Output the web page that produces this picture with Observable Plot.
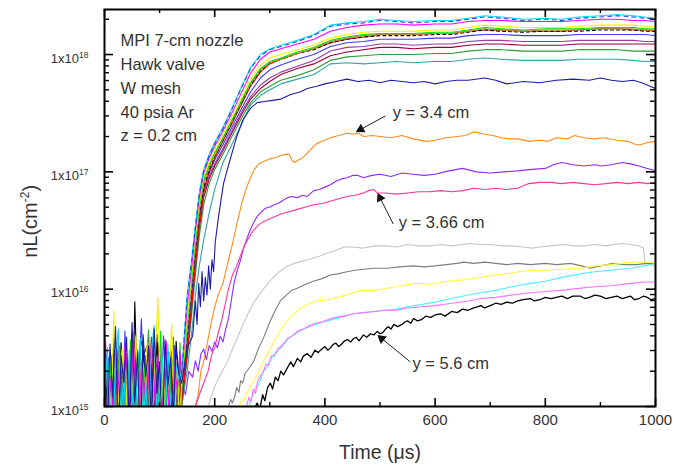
<!DOCTYPE html>
<html><head><meta charset="utf-8">
<script src="https://cdn.jsdelivr.net/npm/d3@7"></script>
<script src="https://cdn.jsdelivr.net/npm/@observablehq/plot@0.6"></script>
<style>
html,body{margin:0;padding:0;background:#fff;}
#chart{width:673px;height:466px;}
</style></head><body><div id="chart"></div>
<script>
// ---------- tick values ----------
const xMajorTicks = [0, 200, 400, 600, 800, 1000];
const xMinorTicks = [100, 300, 500, 700, 900];
const yMajorTicks = [1e15, 1e16, 1e17, 1e18];
const yMinorTicks = [2e15,3e15,4e15,5e15,6e15,7e15,8e15,9e15,2e16,3e16,4e16,5e16,6e16,7e16,8e16,9e16,2e17,3e17,4e17,5e17,6e17,7e17,8e17,9e17,2e18];

// ---------- text ----------
const infoLines = ["MPI 7-cm nozzle", "Hawk valve", "W mesh", "40 psia Ar", "z = 0.2 cm"];
const xTitle = "Time (\u03bcs)";
const annotations = [
  {t: 523, v: 3.18e17, label: "y = 3.4 cm"},
  {t: 534, v: 3.68e16, label: "y = 3.66 cm"},
  {t: 559, v: 2.32e15, label: "y = 5.6 cm"}
];
const arrows = [
  {t1: 510, v1: 3.0e17, t2: 465, v2: 2.3e17},
  {t1: 524, v1: 3.6e16, t2: 500, v2: 6.0e16},
  {t1: 555, v1: 2.4e15, t2: 503, v2: 3.8e15}
];

// ---------- early noise (0-140 us) ----------
const noiseTa = [0,5,10,15,20,25,30,35,40,45,50,55,60,65,70,75,80,85,90,95,100,105,110,115,120,125,130,135];
const noiseTb = [2,7,12,17,22,27,32,37,42,47,52,57,62,67,72,77,82,87,92,97,102,107,112,117,122,127,132,137];
const navyNoise = [2.1e15,0.6e15,3.4e15,1.2e15,4.8e15,0.5e15,2.7e15,1.6e15,3.9e15,0.7e15,5.2e15,1.1e15,2.9e15,0.4e15,4.1e15,1.8e15,3.3e15,0.6e15,4.6e15,1.3e15,2.4e15,0.5e15,3.7e15,1.5e15,2.6e15,0.8e15,3.1e15,1.9e15];
const blueNoise = [0.8e15,2.6e15,0.5e15,3.8e15,1.4e15,2.2e15,0.4e15,4.4e15,1.0e15,3.0e15,0.6e15,2.5e15,1.7e15,5.6e15,0.9e15,2.8e15,0.5e15,3.5e15,1.2e15,2.0e15,0.7e15,4.0e15,1.5e15,2.9e15,0.6e15,3.3e15,1.1e15,2.4e15];
const dkGreenNoise = [1.5e15,3.0e15,0.7e15,2.3e15,0.5e15,3.6e15,1.8e15,0.6e15,2.7e15,1.0e15,4.2e15,0.8e15,2.1e15,3.4e15,0.6e15,1.9e15,4.5e15,0.9e15,2.6e15,0.5e15,3.2e15,1.4e15,0.7e15,2.8e15,1.6e15,3.9e15,0.8e15,2.2e15];
const yellowNoise = [0.5e15,2.0e15,0.9e15,6.5e15,0.6e15,1.7e15,3.1e15,0.5e15,2.4e15,0.8e15,1.5e15,4.0e15,0.7e15,2.2e15,0.5e15,3.5e15,1.2e15,0.6e15,2.6e15,8.5e15,0.9e15,2.6e15,0.5e15,1.8e15,5.0e15,0.8e15,2.1e15,0.6e15];
const cyanNoise = [0.7e15,3.2e15,1.1e15,0.5e15,2.5e15,4.6e15,0.8e15,1.9e15,0.5e15,3.0e15,1.3e15,0.6e15,2.2e15,3.8e15,0.7e15,1.6e15,0.5e15,2.9e15,4.9e15,0.8e15,1.4e15,2.6e15,0.6e15,3.4e15,1.0e15,0.5e15,2.3e15,1.7e15];
const magentaNoise = [3.6e15,0.9e15,1.8e15,0.5e15,2.9e15,1.2e15,0.6e15,3.3e15,2.0e15,0.7e15,4.3e15,1.0e15,0.5e15,2.4e15,1.5e15,0.8e15,3.1e15,0.5e15,1.9e15,2.7e15,0.6e15,1.3e15,3.6e15,0.9e15,0.5e15,2.2e15,1.4e15,3.0e15];
const redNoise = [4.5e15,1.3e15,0.5e15,2.2e15,0.9e15,3.1e15,0.6e15,1.7e15,2.8e15,0.5e15,1.2e15,3.6e15,0.8e15,2.0e15,0.5e15,2.7e15,1.1e15,3.9e15,0.6e15,1.6e15,0.5e15,2.5e15,1.3e15,0.7e15,3.2e15,1.0e15,0.5e15,2.0e15];
const maroonNoise = [1.2e15,0.6e15,2.0e15,1.0e15,2.6e15,0.7e15,1.8e15,0.5e15,2.3e15,1.1e15,2.9e15,3.4e15,2.5e15,3.6e15,2.8e15,3.3e15,2.4e15,3.1e15,2.6e15,3.5e15,1.5e15,0.7e15,2.1e15,0.9e15,1.6e15,0.5e15,2.4e15,1.0e15];
const blackNoise = [0.6e15,1.9e15,0.5e15,2.8e15,1.0e15,0.5e15,3.5e15,1.4e15,0.7e15,2.5e15,0.5e15,7.8e15,1.1e15,0.6e15,3.0e15,1.7e15,0.5e15,2.3e15,0.9e15,4.1e15,0.6e15,1.8e15,0.5e15,2.9e15,1.2e15,0.7e15,3.6e15,1.5e15];
const violetNoise = [0.5e15,1.3e15,0.7e15,1.8e15,0.5e15,1.1e15,2.2e15,0.6e15,1.4e15,0.9e15,1.6e15,1.2e15,1.5e15,1.3e15,1.6e15,1.1e15,1.5e15,1.2e15,1.6e15,1.4e15,1.3e15,1.5e15,0.8e15,1.8e15,0.6e15,2.0e15,1.1e15,2.4e15];
const orangeNoise = [0.5e15,0.6e15,2.4e15,0.5e15,0.8e15,0.5e15,1.6e15,0.5e15,0.6e15,2.0e15,0.5e15,0.7e15,0.5e15,1.3e15,0.5e15,0.6e15,3.0e15,0.5e15,0.8e15,0.5e15,1.8e15,0.5e15,0.6e15,1.1e15,0.5e15,2.6e15,0.5e15,0.7e15];
const greenNoise = [1.0e15,0.5e15,2.7e15,1.4e15,0.6e15,3.3e15,0.9e15,2.1e15,0.5e15,3.7e15,1.2e15,0.7e15,2.6e15,0.5e15,1.9e15,3.0e15,0.8e15,0.5e15,2.3e15,1.1e15,4.4e15,0.6e15,1.7e15,0.5e15,2.9e15,1.3e15,0.7e15,3.5e15];

// ---------- upper bundle (shared time grid) ----------
const bundleT = [140,150,158,165,172,180,190,200,215,230,250,265,283,300,320,350,380,410,440,470,500,530,560,600,630,660,690,720,760,800,830,860,900,930,960,980,1000];
const cyanV = [2.00e15,8.91e15,1.78e16,3.55e16,6.61e16,1.05e17,1.41e17,1.78e17,2.40e17,3.39e17,5.50e17,7.76e17,1.00e18,1.12e18,1.20e18,1.32e18,1.48e18,1.78e18,1.86e18,1.91e18,2.00e18,1.95e18,1.91e18,1.95e18,1.95e18,2.04e18,2.14e18,2.09e18,2.00e18,2.04e18,2.00e18,2.09e18,2.14e18,2.19e18,2.14e18,2.09e18,2.04e18];
const blueDashV = [1.91e15,8.51e15,1.70e16,3.39e16,6.46e16,1.02e17,1.38e17,1.74e17,2.34e17,3.31e17,5.37e17,7.59e17,9.77e17,1.10e18,1.17e18,1.29e18,1.45e18,1.74e18,1.82e18,1.86e18,1.95e18,1.91e18,1.86e18,1.91e18,1.91e18,2.00e18,2.09e18,2.04e18,1.95e18,2.00e18,1.95e18,2.04e18,2.09e18,2.14e18,2.09e18,2.04e18,2.00e18];
const magentaV = [1.78e15,7.08e15,1.51e16,3.16e16,6.03e16,9.77e16,1.32e17,1.66e17,2.24e17,3.09e17,4.90e17,6.92e17,9.12e17,1.05e18,1.12e18,1.23e18,1.35e18,1.58e18,1.70e18,1.78e18,1.82e18,1.82e18,1.78e18,1.82e18,1.82e18,1.91e18,1.95e18,1.95e18,1.91e18,1.91e18,1.91e18,1.95e18,2.00e18,2.00e18,1.95e18,1.95e18,1.91e18];
const yellowV = [1.58e15,5.62e15,1.32e16,2.82e16,5.50e16,9.12e16,1.23e17,1.55e17,2.09e17,2.88e17,4.47e17,6.17e17,8.13e17,9.33e17,1.00e18,1.10e18,1.20e18,1.38e18,1.48e18,1.55e18,1.58e18,1.58e18,1.58e18,1.62e18,1.62e18,1.70e18,1.78e18,1.74e18,1.70e18,1.70e18,1.70e18,1.74e18,1.78e18,1.78e18,1.78e18,1.74e18,1.74e18];
const greenV = [1.41e15,5.01e15,1.20e16,2.51e16,5.01e16,8.51e16,1.15e17,1.45e17,1.95e17,2.69e17,4.17e17,5.75e17,7.59e17,8.71e17,9.33e17,1.05e18,1.15e18,1.32e18,1.41e18,1.48e18,1.51e18,1.51e18,1.51e18,1.55e18,1.55e18,1.62e18,1.70e18,1.66e18,1.62e18,1.66e18,1.66e18,1.66e18,1.70e18,1.70e18,1.70e18,1.66e18,1.66e18];
const oliveV = [1.32e15,4.47e15,1.10e16,2.29e16,4.57e16,7.94e16,1.10e17,1.38e17,1.91e17,2.63e17,4.07e17,5.62e17,7.41e17,8.51e17,9.12e17,1.02e18,1.12e18,1.29e18,1.38e18,1.45e18,1.48e18,1.48e18,1.48e18,1.51e18,1.51e18,1.58e18,1.66e18,1.62e18,1.58e18,1.62e18,1.62e18,1.62e18,1.66e18,1.66e18,1.66e18,1.62e18,1.62e18];
const redV = [1.12e15,2.82e15,7.08e15,1.66e16,3.55e16,6.61e16,1.00e17,1.32e17,1.82e17,2.51e17,3.89e17,5.37e17,7.08e17,8.32e17,9.12e17,1.02e18,1.12e18,1.26e18,1.35e18,1.41e18,1.48e18,1.48e18,1.48e18,1.51e18,1.51e18,1.58e18,1.62e18,1.62e18,1.58e18,1.58e18,1.58e18,1.62e18,1.66e18,1.66e18,1.62e18,1.62e18,1.58e18];
const blackDashV = [1.26e15,3.98e15,1.00e16,2.09e16,4.17e16,7.41e16,1.05e17,1.35e17,1.86e17,2.57e17,3.98e17,5.50e17,7.24e17,8.51e17,9.12e17,1.02e18,1.10e18,1.26e18,1.35e18,1.41e18,1.45e18,1.45e18,1.45e18,1.48e18,1.48e18,1.55e18,1.62e18,1.58e18,1.55e18,1.58e18,1.58e18,1.58e18,1.62e18,1.62e18,1.62e18,1.58e18,1.58e18];
const blueV = [1.20e15,3.55e15,8.91e15,2.00e16,3.98e16,7.08e16,9.77e16,1.26e17,1.70e17,2.34e17,3.55e17,4.79e17,6.31e17,7.41e17,8.13e17,9.12e17,1.00e18,1.17e18,1.26e18,1.29e18,1.35e18,1.35e18,1.35e18,1.38e18,1.38e18,1.45e18,1.48e18,1.48e18,1.45e18,1.45e18,1.45e18,1.48e18,1.48e18,1.48e18,1.48e18,1.48e18,1.45e18];
const purpleV = [1.12e15,3.16e15,7.94e15,1.78e16,3.63e16,6.61e16,9.12e16,1.17e17,1.58e17,2.19e17,3.31e17,4.37e17,5.50e17,6.31e17,7.08e17,7.94e17,8.91e17,1.07e18,1.15e18,1.17e18,1.23e18,1.23e18,1.20e18,1.23e18,1.23e18,1.29e18,1.32e18,1.32e18,1.29e18,1.29e18,1.29e18,1.32e18,1.32e18,1.32e18,1.32e18,1.29e18,1.29e18];
const maroonV = [1.07e15,2.82e15,7.08e15,1.58e16,3.31e16,6.03e16,8.71e16,1.12e17,1.51e17,2.09e17,3.16e17,4.17e17,5.13e17,5.89e17,6.76e17,7.59e17,8.32e17,9.77e17,1.05e18,1.10e18,1.15e18,1.15e18,1.12e18,1.15e18,1.15e18,1.20e18,1.23e18,1.23e18,1.20e18,1.20e18,1.20e18,1.23e18,1.23e18,1.23e18,1.23e18,1.23e18,1.23e18];
const dkGreenV = [1.00e15,2.51e15,6.03e15,1.32e16,2.82e16,5.25e16,7.94e16,1.05e17,1.41e17,1.95e17,2.95e17,3.89e17,4.79e17,5.37e17,6.03e17,6.61e17,7.41e17,8.91e17,9.55e17,9.77e17,1.00e18,1.00e18,1.00e18,1.02e18,1.02e18,1.07e18,1.10e18,1.10e18,1.07e18,1.07e18,1.07e18,1.10e18,1.10e18,1.10e18,1.07e18,1.07e18,1.07e18];
const tealV = [1.00e15,2.00e15,4.17e15,8.91e15,1.58e16,2.63e16,4.47e16,7.08e16,1.20e17,1.66e17,2.63e17,3.72e17,4.47e17,5.01e17,5.62e17,6.17e17,6.76e17,8.32e17,8.51e17,8.32e17,8.51e17,8.71e17,8.51e17,8.71e17,8.71e17,9.12e17,9.33e17,9.12e17,8.91e17,8.91e17,8.91e17,9.12e17,9.12e17,9.12e17,8.91e17,8.71e17,8.71e17];

// ---------- individual traces [time us, nL cm^-2] ----------
const navyMain = [[140,1.58e15],[150,3.16e15],[160,3.98e15],[165,7.94e15],[168,5.01e15],[171,1.12e16],[174,7.08e15],[177,1.41e16],[180,7.94e15],[183,1.26e16],[186,8.91e15],[189,1.58e16],[192,1.00e16],[195,1.78e16],[198,1.41e16],[201,2.51e16],[207,4.17e16],[216,7.94e16],[223,1.05e17],[229,1.32e17],[240,2.00e17],[252,2.82e17],[265,3.47e17],[277,3.89e17],[290,3.98e17],[305,4.07e17],[320,4.17e17],[338,4.57e17],[355,4.79e17],[368,5.13e17],[385,5.37e17],[400,5.62e17],[420,5.89e17],[440,6.17e17],[460,5.89e17],[480,6.03e17],[500,5.75e17],[520,6.03e17],[540,5.89e17],[560,5.75e17],[580,5.89e17],[600,5.62e17],[620,5.89e17],[640,6.03e17],[660,6.03e17],[690,6.31e17],[710,6.03e17],[730,5.62e17],[760,5.89e17],[790,5.75e17],[820,6.03e17],[850,6.17e17],[880,6.03e17],[900,6.31e17],[920,6.03e17],[940,5.89e17],[960,6.03e17],[975,5.75e17],[990,5.37e17],[1000,5.13e17]];
const orange34 = [[140,0.6e15],[150,0.8e15],[158,0.7e15],[165,1.00e15],[170,1.26e15],[175,2.00e15],[181,2.51e15],[187,3.55e15],[193,5.01e15],[200,7.08e15],[207,9.12e15],[215,1.12e16],[220,1.41e16],[225,1.78e16],[232,2.40e16],[240,3.55e16],[250,5.62e16],[258,7.41e16],[265,8.91e16],[272,1.05e17],[280,1.17e17],[290,1.23e17],[300,1.29e17],[310,1.32e17],[320,1.38e17],[328,1.41e17],[335,1.41e17],[340,1.26e17],[345,1.20e17],[352,1.26e17],[360,1.32e17],[370,1.48e17],[378,1.62e17],[385,1.74e17],[395,1.82e17],[410,1.95e17],[425,2.04e17],[440,2.14e17],[450,2.09e17],[460,2.14e17],[470,2.00e17],[485,2.04e17],[500,2.00e17],[520,1.95e17],[540,2.04e17],[560,1.91e17],[584,1.82e17],[600,1.86e17],[620,1.95e17],[640,2.00e17],[655,2.04e17],[670,2.19e17],[690,2.09e17],[705,2.04e17],[720,1.95e17],[735,1.91e17],[750,1.91e17],[770,1.82e17],[790,1.86e17],[805,1.82e17],[820,1.95e17],[840,1.91e17],[853,2.04e17],[870,1.95e17],[890,1.91e17],[905,1.95e17],[930,1.86e17],[950,1.82e17],[965,1.70e17],[973,1.70e17],[985,1.78e17],[1000,1.82e17]];
const violetMain = [[140,1.58e15],[147,1.26e15],[153,2.00e15],[160,1.78e15],[165,2.45e15],[170,2.00e15],[175,2.82e15],[180,3.09e15],[185,2.51e15],[190,3.31e15],[195,2.95e15],[200,3.55e15],[205,3.16e15],[210,3.98e15],[215,3.55e15],[220,4.57e15],[225,5.62e15],[230,7.94e15],[235,1.12e16],[241,1.45e16],[247,1.78e16],[253,2.29e16],[259,2.75e16],[265,3.24e16],[271,3.72e16],[277,4.17e16],[285,4.57e16],[292,4.90e16],[300,5.01e16],[308,5.25e16],[315,5.37e16],[325,5.75e16],[332,6.03e16],[340,6.17e16],[350,6.03e16],[360,6.31e16],[368,6.17e16],[375,6.61e16],[380,6.92e16],[390,7.08e16],[400,7.41e16],[410,7.76e16],[420,8.32e16],[430,8.71e16],[440,8.91e16],[450,9.33e16],[460,9.33e16],[470,8.91e16],[485,9.33e16],[500,9.55e16],[520,9.12e16],[540,9.77e16],[560,9.55e16],[580,9.33e16],[600,9.55e16],[625,1.02e17],[650,1.07e17],[675,1.00e17],[700,9.77e16],[725,1.00e17],[750,1.02e17],[775,1.05e17],[800,1.07e17],[815,1.15e17],[830,1.20e17],[850,1.15e17],[870,1.12e17],[890,1.15e17],[900,1.12e17],[920,1.15e17],[940,1.20e17],[955,1.17e17],[970,1.12e17],[985,1.07e17],[1000,1.02e17]];
const pink366 = [[160,0.7e15],[165,1.00e15],[172,1.26e15],[180,1.58e15],[188,2.00e15],[195,2.82e15],[200,3.16e15],[206,4.17e15],[212,5.25e15],[218,7.08e15],[225,1.00e16],[232,1.32e16],[240,1.58e16],[248,2.00e16],[255,2.40e16],[262,2.75e16],[270,3.16e16],[280,3.55e16],[290,3.80e16],[300,3.98e16],[310,4.17e16],[320,4.37e16],[335,4.57e16],[350,4.79e16],[365,5.01e16],[380,5.25e16],[395,5.37e16],[410,5.62e16],[425,5.89e16],[440,6.17e16],[455,6.31e16],[470,6.61e16],[480,6.92e16],[488,7.08e16],[495,6.61e16],[510,6.61e16],[530,6.46e16],[550,6.61e16],[570,6.76e16],[590,6.76e16],[610,6.92e16],[630,6.76e16],[650,6.92e16],[670,7.24e16],[690,7.08e16],[710,7.24e16],[730,7.08e16],[750,7.24e16],[770,7.94e16],[790,8.13e16],[810,8.13e16],[830,7.94e16],[850,8.13e16],[870,7.94e16],[890,7.76e16],[910,7.94e16],[930,8.13e16],[950,7.94e16],[970,8.13e16],[985,7.94e16],[1000,8.13e16]];
const lightGray = [[183,0.7e15],[188,1.00e15],[195,1.26e15],[200,1.48e15],[210,1.86e15],[223,2.40e15],[235,3.31e15],[247,4.47e15],[258,5.89e15],[270,7.59e15],[285,9.55e15],[300,1.17e16],[315,1.38e16],[330,1.55e16],[345,1.66e16],[360,1.74e16],[375,1.82e16],[390,1.91e16],[405,2.04e16],[420,2.14e16],[435,2.29e16],[450,2.29e16],[470,2.24e16],[490,2.34e16],[510,2.34e16],[530,2.29e16],[550,2.40e16],[570,2.34e16],[590,2.34e16],[610,2.40e16],[630,2.34e16],[650,2.40e16],[664,2.45e16],[680,2.40e16],[700,2.40e16],[720,2.34e16],[740,2.34e16],[760,2.29e16],[775,2.24e16],[790,2.29e16],[810,2.34e16],[833,2.40e16],[850,2.34e16],[870,2.34e16],[890,2.40e16],[910,2.34e16],[937,2.45e16],[955,2.40e16],[970,2.34e16],[978,2.24e16],[981,1.66e16],[990,1.62e16],[1000,1.58e16]];
const darkGray = [[220,0.7e15],[225,1.00e15],[229,1.15e15],[232,1.07e15],[236,1.20e15],[240,1.45e15],[244,1.32e15],[247,1.66e15],[251,1.58e15],[255,1.91e15],[263,2.14e15],[271,2.45e15],[280,3.16e15],[290,3.98e15],[300,5.25e15],[310,6.61e15],[319,7.94e15],[330,8.91e15],[340,9.77e15],[350,1.02e16],[365,1.10e16],[379,1.17e16],[395,1.23e16],[410,1.32e16],[423,1.35e16],[440,1.41e16],[455,1.45e16],[470,1.48e16],[490,1.51e16],[513,1.51e16],[535,1.55e16],[561,1.58e16],[580,1.55e16],[600,1.58e16],[620,1.62e16],[640,1.66e16],[652,1.70e16],[670,1.66e16],[690,1.70e16],[710,1.66e16],[730,1.62e16],[750,1.66e16],[773,1.62e16],[800,1.66e16],[820,1.62e16],[846,1.66e16],[865,1.58e16],[882,1.51e16],[900,1.58e16],[924,1.66e16],[945,1.62e16],[965,1.62e16],[985,1.66e16],[1000,1.66e16]];
const yellowLow = [[240,0.7e15],[245,1.00e15],[249,1.15e15],[253,1.12e15],[258,1.32e15],[262,1.38e15],[267,1.55e15],[271,1.66e15],[280,2.00e15],[290,2.51e15],[296,2.82e15],[305,3.39e15],[319,4.47e15],[335,5.62e15],[350,6.61e15],[368,7.41e15],[386,7.94e15],[405,8.13e15],[423,8.51e15],[445,9.12e15],[465,9.77e15],[490,9.77e15],[513,1.02e16],[540,1.07e16],[561,1.12e16],[592,1.10e16],[620,1.17e16],[650,1.20e16],[683,1.26e16],[710,1.32e16],[740,1.38e16],[773,1.45e16],[800,1.45e16],[830,1.48e16],[864,1.51e16],[890,1.58e16],[920,1.62e16],[955,1.70e16],[980,1.70e16],[1000,1.70e16]];
const cyanLow = [[256,0.7e15],[262,1.00e15],[266,1.15e15],[270,1.26e15],[275,1.45e15],[280,1.55e15],[285,1.82e15],[290,2.04e15],[296,2.19e15],[302,2.57e15],[308,2.69e15],[315,3.02e15],[322,3.24e15],[332,3.72e15],[340,3.98e15],[350,4.27e15],[361,4.57e15],[372,4.79e15],[383,5.01e15],[395,5.25e15],[405,5.37e15],[420,5.62e15],[435,5.89e15],[452,6.17e15],[470,6.31e15],[490,6.46e15],[510,6.61e15],[530,6.76e15],[550,7.08e15],[575,7.41e15],[600,7.76e15],[630,8.32e15],[660,8.91e15],[683,9.33e15],[710,9.77e15],[740,1.05e16],[773,1.12e16],[800,1.17e16],[830,1.26e16],[864,1.35e16],[890,1.41e16],[920,1.45e16],[955,1.51e16],[980,1.58e16],[1000,1.66e16]];
const magentaLow = [[252,0.7e15],[258,1.00e15],[262,1.20e15],[266,1.10e15],[270,1.41e15],[274,1.29e15],[278,1.66e15],[283,1.82e15],[288,1.95e15],[293,2.29e15],[298,2.24e15],[303,2.69e15],[308,2.75e15],[315,3.09e15],[322,3.31e15],[332,3.80e15],[340,3.98e15],[350,4.37e15],[361,4.57e15],[372,4.90e15],[383,5.13e15],[395,5.25e15],[405,5.50e15],[420,5.75e15],[435,5.89e15],[452,6.17e15],[470,6.31e15],[490,6.46e15],[510,6.61e15],[530,6.61e15],[550,6.92e15],[575,7.08e15],[600,7.24e15],[630,7.59e15],[660,7.94e15],[683,8.32e15],[710,8.51e15],[740,8.91e15],[773,9.33e15],[800,9.55e15],[830,9.77e15],[864,1.02e16],[890,1.05e16],[920,1.07e16],[955,1.12e16],[980,1.15e16],[1000,1.15e16]];
const black56 = [[265,0.7e15],[270,8.91e14],[274,1.0e15],[277,1.07e15],[282,9.55e14],[287,1.26e15],[291,1.12e15],[296,1.45e15],[301,1.58e15],[305,1.41e15],[310,1.78e15],[315,1.66e15],[320,2.00e15],[325,1.86e15],[332,2.14e15],[338,2.40e15],[343,2.19e15],[350,2.57e15],[356,2.40e15],[361,2.69e15],[368,2.82e15],[375,2.63e15],[382,3.02e15],[388,2.88e15],[392,3.02e15],[400,3.24e15],[405,3.02e15],[410,3.16e15],[415,3.39e15],[420,3.47e15],[425,3.24e15],[430,3.39e15],[436,3.63e15],[441,3.72e15],[447,3.55e15],[452,3.80e15],[457,3.89e15],[462,3.63e15],[470,4.07e15],[476,3.89e15],[483,4.17e15],[489,4.07e15],[495,4.37e15],[500,4.17e15],[505,4.27e15],[510,4.57e15],[515,4.79e15],[520,4.57e15],[525,5.01e15],[532,4.79e15],[540,5.01e15],[545,5.25e15],[550,5.37e15],[556,5.13e15],[561,5.62e15],[568,5.37e15],[575,5.50e15],[583,5.89e15],[592,5.75e15],[600,6.03e15],[610,6.17e15],[618,5.89e15],[630,6.46e15],[640,6.31e15],[650,6.76e15],[660,6.61e15],[670,6.92e15],[677,7.08e15],[683,7.24e15],[690,6.92e15],[700,7.24e15],[710,7.59e15],[720,7.41e15],[730,7.76e15],[740,7.59e15],[750,7.94e15],[760,8.13e15],[773,8.32e15],[780,7.94e15],[790,8.13e15],[800,8.51e15],[810,8.32e15],[820,8.51e15],[830,8.71e15],[840,8.32e15],[850,8.71e15],[864,8.71e15],[872,8.32e15],[880,8.51e15],[890,8.91e15],[900,8.71e15],[910,8.32e15],[920,8.51e15],[930,8.71e15],[940,8.32e15],[947,8.51e15],[955,8.71e15],[962,8.13e15],[970,8.32e15],[978,8.71e15],[985,8.51e15],[992,8.13e15],[1000,8.32e15]];

// ---------- build tables ----------
const P = arr => arr.map(([t, v]) => ({t, v}));
const N = (ts, vs) => ts.map((t, i) => ({t, v: vs[i]}));
const B = vs => bundleT.map((t, i) => ({t, v: vs[i]}));

const series = [
  {data: P(lightGray), color: "#c6c6c6"},
  {data: P(darkGray), color: "#7d7d7d"},
  {data: P(yellowLow), color: "#ffff3c"},
  {data: P(cyanLow), color: "#4eeeff"},
  {data: P(magentaLow), color: "#ff70ff"},
  {data: P(black56), color: "#000000", w: 1.3},
  {data: N(noiseTa, orangeNoise).concat(P(orange34)), color: "#ff8c1a"},
  {data: N(noiseTb, violetNoise).concat(P(violetMain)), color: "#8f2bff"},
  {data: P(pink366), color: "#ff3399"},
  {data: B(tealV), color: "#33a3a3"},
  {data: N(noiseTa, dkGreenNoise).concat(B(dkGreenV)), color: "#2e9a3a"},
  {data: N(noiseTb, maroonNoise).concat(B(maroonV)), color: "#990033"},
  {data: B(purpleV), color: "#9b3aa0"},
  {data: N(noiseTb, blueNoise).concat(B(blueV)), color: "#3c3cff"},
  {data: N(noiseTa, redNoise).concat(B(redV)), color: "#ff0000"},
  {data: N(noiseTa, blackNoise), color: "#000000"},
  {data: B(blackDashV), color: "#000000", dash: "3,3"},
  {data: B(oliveV), color: "#b08a30"},
  {data: N(noiseTb, greenNoise).concat(B(greenV)), color: "#00e000"},
  {data: N(noiseTb, yellowNoise).concat(B(yellowV)), color: "#f2f200"},
  {data: N(noiseTb, magentaNoise).concat(B(magentaV)), color: "#ff00ff"},
  {data: N(noiseTa, cyanNoise).concat(B(cyanV)), color: "#00e0f0"},
  {data: B(blueDashV), color: "#3344dd", dash: "4,4"},
  {data: N(noiseTa, navyNoise).concat(P(navyMain)), color: "#1c1caa"}
];

// ---------- geometry ----------
const W = 673, H = 466, mL = 104, mR = 18, mT = 9, mB = 60;
const fw = W - mL - mR, fh = H - mT - mB;
const yDomain = [1e15, 2.42e18];
const xs = d3.scaleLinear([0, 1000], [mL, W - mR]);
const ys = d3.scaleLog(yDomain, [H - mB, mT]);
const FONT = "'Liberation Sans', Arial, Helvetica, sans-serif";
const TXT = "#333";

const marks = [];
for (const s of series) {
  marks.push(Plot.line(s.data, {x: "t", y: "v", stroke: s.color, strokeWidth: s.w || 1.1,
    strokeDasharray: s.dash, clip: true}));
}
// inward ticks on all four sides
marks.push(
  Plot.tickX(xMajorTicks, {x: d => d, insetTop: fh - 8, stroke: "#000", strokeWidth: 1.6}),
  Plot.tickX(xMajorTicks, {x: d => d, insetBottom: fh - 8, stroke: "#000", strokeWidth: 1.6}),
  Plot.tickX(xMinorTicks, {x: d => d, insetTop: fh - 4, stroke: "#000", strokeWidth: 1.4}),
  Plot.tickX(xMinorTicks, {x: d => d, insetBottom: fh - 4, stroke: "#000", strokeWidth: 1.4}),
  Plot.tickY(yMajorTicks, {y: d => d, insetRight: fw - 9, stroke: "#000", strokeWidth: 1.6}),
  Plot.tickY(yMajorTicks, {y: d => d, insetLeft: fw - 9, stroke: "#000", strokeWidth: 1.6}),
  Plot.tickY(yMinorTicks, {y: d => d, insetRight: fw - 5, stroke: "#000", strokeWidth: 1.4}),
  Plot.tickY(yMinorTicks, {y: d => d, insetLeft: fw - 5, stroke: "#000", strokeWidth: 1.4}),
  Plot.frame({stroke: "#000", strokeWidth: 2}),
  Plot.axisX(xMajorTicks, {tickSize: 0, tickPadding: 8, fontSize: 15, label: null,
    tickFormat: d => String(d), color: TXT}),
  Plot.axisY(yMajorTicks, {tickSize: 0, tickPadding: 16, fontSize: 13, label: null, dy: 4,
    tickFormat: d => "1x10^" + Math.round(Math.log10(d)), color: TXT}),
  Plot.text([infoLines.join("\n")], {text: d => d, frameAnchor: "top-left", dx: 16, dy: 20,
    lineHeight: 1.44, fontSize: 16.5, fill: TXT}),
  Plot.text(annotations, {x: "t", y: "v", text: "label", textAnchor: "start", fontSize: 16.5, fill: TXT}),
  Plot.link(arrows, {x1: "t1", y1: "v1", x2: "t2", y2: "v2", stroke: "#222", strokeWidth: 1}),
  Plot.dot(arrows, {x: "t2", y: "v2", symbol: "triangle", r: 3.6, fill: "#111", stroke: "none",
    rotate: d => Math.atan2(xs(d.t2) - xs(d.t1), -(ys(d.v2) - ys(d.v1))) * 180 / Math.PI}),
  Plot.text([xTitle], {text: d => d, frameAnchor: "bottom", lineAnchor: "middle", dy: 46,
    fontSize: 19.5, fill: TXT})
);

const svg = Plot.plot({
  width: W, height: H,
  marginLeft: mL, marginRight: mR, marginTop: mT, marginBottom: mB,
  x: {domain: [0, 1000]},
  y: {type: "log", domain: yDomain},
  style: {fontFamily: FONT, background: "#fff", color: TXT, overflow: "visible"},
  marks
});

// superscript exponents on the y tick labels
d3.select(svg).selectAll('g[aria-label="y-axis tick label"] text').each(function () {
  const s = this.textContent;
  const parts = s.split("^");
  if (parts.length === 2) {
    const t = d3.select(this);
    t.text(parts[0]);
    t.append("tspan").attr("dy", -5).attr("font-size", 8.5).text(parts[1]);
  }
});

// y axis title with superscript
const yt = d3.select(svg).append("text")
  .attr("transform", `translate(30,${mT + fh * 0.535}) rotate(-90)`)
  .attr("text-anchor", "middle")
  .attr("font-family", FONT)
  .attr("font-size", 20)
  .attr("fill", TXT)
  .attr("dy", "0.35em");
yt.append("tspan").text("nL(cm");
yt.append("tspan").attr("dy", -8).attr("font-size", 12).text("-2");
yt.append("tspan").attr("dy", 8).text(")");

document.getElementById("chart").appendChild(svg);
</script>
</body></html>
